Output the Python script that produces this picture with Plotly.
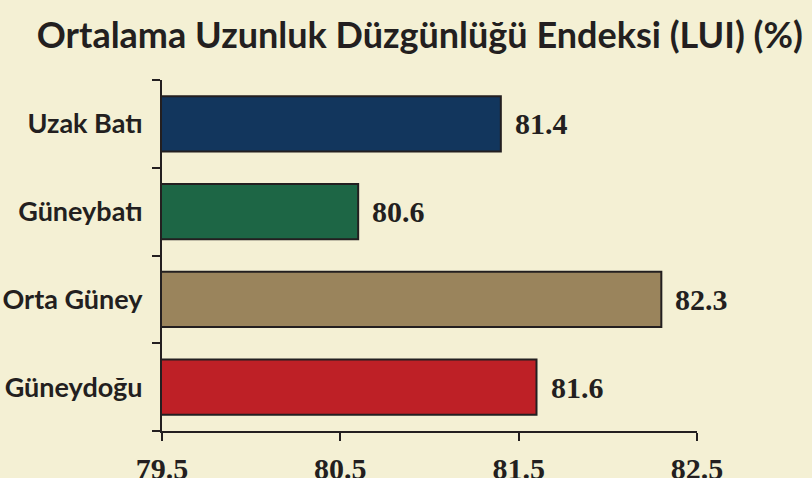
import plotly.graph_objects as go

categories = ["Uzak Batı", "Güneybatı", "Orta Güney", "Güneydoğu"]
values = [81.4, 80.6, 82.3, 81.6]
colors = ["#12365d", "#1d6645", "#9a845c", "#be2026"]
x_ticks = [79.5, 80.5, 81.5, 82.5]
title = "Ortalama Uzunluk Düzgünlüğü Endeksi (LUI) (%)"

bg = "#f4f0d4"
ink = "#231f20"

fig = go.Figure()
fig.add_trace(go.Bar(
    y=categories, x=values, orientation="h",
    marker=dict(color=colors, line=dict(color=ink, width=2)),
    width=0.63, hoverinfo="skip",
))

for c, v in zip(categories, values):
    fig.add_annotation(x=v, y=c, text=f"{v:.1f}", showarrow=False,
                       xanchor="left", xshift=12,
                       font=dict(family="Liberation Serif", size=30, color=ink, weight="bold"))

fig.update_layout(
    width=812, height=478,
    paper_bgcolor=bg, plot_bgcolor=bg,
    margin=dict(l=162, r=115, t=80, b=47, autoexpand=False),
    showlegend=False,
    title=dict(text=title, x=0.517, xanchor="center", y=0.925, yanchor="middle",
               font=dict(family="Lato", size=36, color=ink, weight="bold")),
    xaxis=dict(range=[79.5, 82.5], tickvals=x_ticks, ticktext=[f"{t}" for t in x_ticks],
               showgrid=False, zeroline=False, showline=True, linecolor=ink, linewidth=2,
               ticks="outside", ticklen=8, tickwidth=2, tickcolor=ink,
               ticklabelstandoff=2, automargin=False,
               tickfont=dict(family="Liberation Serif", size=30, color=ink, weight="bold")),
    yaxis=dict(categoryorder="array", categoryarray=categories[::-1],
               showgrid=False, zeroline=False, showline=True, linecolor=ink, linewidth=2,
               ticks="outside", ticklen=8, tickwidth=2, tickcolor=ink, tickson="boundaries",
               automargin=False,
               tickfont=dict(family="Lato", size=27, color=ink, weight="bold"),
               ticklabelstandoff=12),
)

fig.write_html("out.html", config={"displayModeBar": False},
               post_script="document.body.style.margin='0';document.body.style.background='%s';" % bg)
